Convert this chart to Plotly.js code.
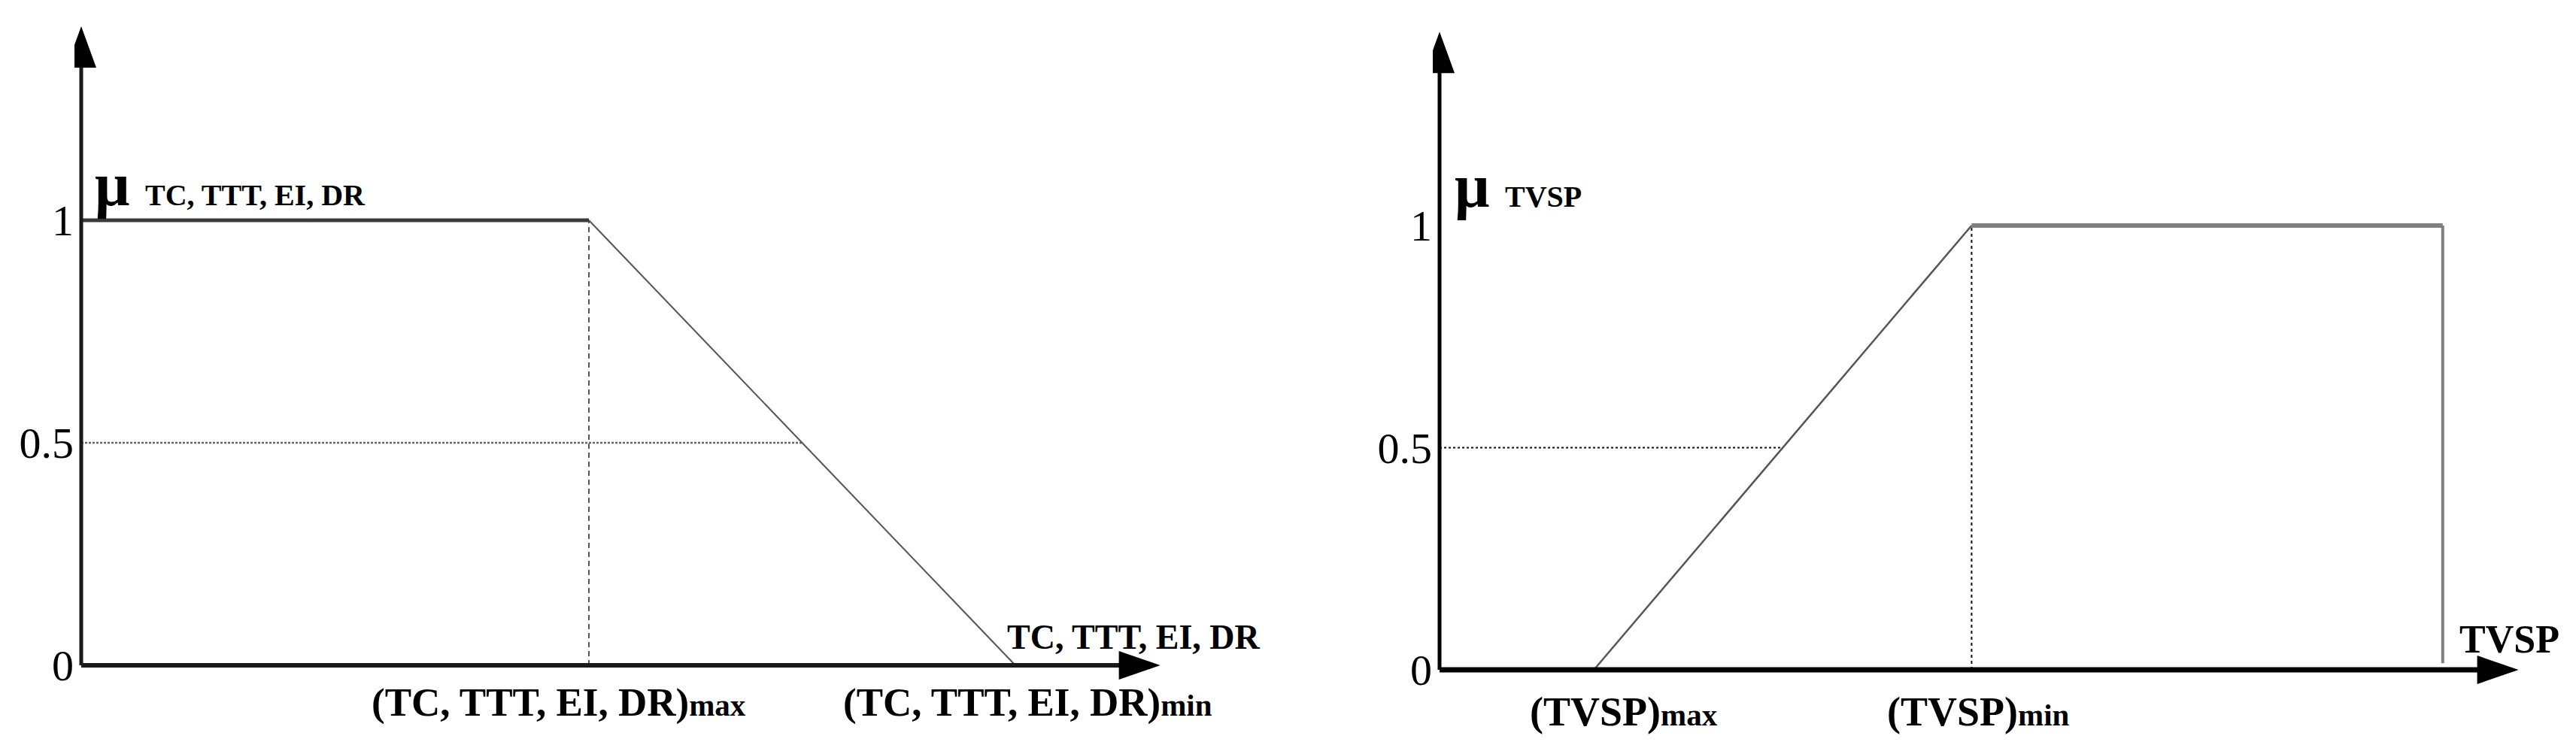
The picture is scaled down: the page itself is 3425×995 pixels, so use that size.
<!DOCTYPE html>
<html>
<head>
<meta charset="utf-8">
<script src="https://cdn.plot.ly/plotly-3.0.1.min.js"></script>
<style>
  html, body { margin: 0; padding: 0; background: #fff; }
  #chart { width: 3425px; height: 995px; }
</style>
</head>
<body>
<div id="chart"></div>
<script>
// --- Data ---
// left panel: decreasing membership for TC, TTT, EI, DR
const leftMuX = [0, 3.75, 6.9];
const leftMuY = [1, 1, 0];
const leftHalfX = 5.33;

// right panel: increasing membership for TVSP
const rightMuX = [1.14, 3.93, 7.41, 7.41];
const rightMuY = [0, 1, 1, 0.015];
const rightHalfX = 2.52;

const yTickVals = [0, 0.5, 1];
const yTickText = ["0", "0.5", "1"];

const muNames = ["TC, TTT, EI, DR", "TVSP"];
const axisNames = ["TC, TTT, EI, DR", "TVSP"];
const boundNames = ["(TC, TTT, EI, DR)", "(TVSP)"];

// arrow tips of the drawn axes (data units)
const axisTipX = 7.97;
const axisTipY = 1.436;

// --- Geometry ---
const W = 3425, H = 995;
const pxPerX = 180;
const xRange = [-0.05, 8.05];
const yRange = [-0.05, 1.45];
const panels = [
  { ox: 108, oy: 885, pxPerY: 592 },
  { ox: 1914, oy: 891, pxPerY: 591 },
];

function xDomain(p) {
  return [(p.ox + xRange[0] * pxPerX) / W, (p.ox + xRange[1] * pxPerX) / W];
}
function yDomain(p) {
  const bottom = p.oy - yRange[0] * p.pxPerY;
  const top = p.oy - yRange[1] * p.pxPerY;
  return [(H - bottom) / H, (H - top) / H];
}

const SERIF = "Liberation Serif";

function seg(xs, ys, ax, color, width, dash) {
  return {
    x: xs, y: ys, xaxis: ax[0], yaxis: ax[1],
    type: "scatter", mode: "lines", hoverinfo: "skip",
    line: { color: color, width: width, dash: dash || "solid" },
  };
}

const L = ["x", "y"], R = ["x2", "y2"];

const traces = [
  // left panel
  seg([leftMuX[1], leftMuX[1]], [0, leftMuY[1]], L, "#222", 1.5, "7px,5px"),
  seg([0, leftHalfX], [0.5, 0.5], L, "#666", 2.5, "3px,2px"),
  seg(leftMuX.slice(0, 2), leftMuY.slice(0, 2), L, "#3a3a3a", 5),
  seg(leftMuX.slice(1), leftMuY.slice(1), L, "#555", 2),
  seg([0, axisTipX - 0.1], [0, 0], L, "#1a1a1a", 6),
  seg([0, 0], [0, axisTipY - 0.05], L, "#1a1a1a", 5),
  // right panel
  seg([rightMuX[1], rightMuX[1]], [0, rightMuY[1]], R, "#111", 2, "4px,4px"),
  seg([0, rightHalfX], [0.5, 0.5], R, "#111", 2, "3px,3px"),
  seg(rightMuX.slice(0, 2), rightMuY.slice(0, 2), R, "#555", 2.5),
  seg(rightMuX.slice(1, 3), rightMuY.slice(1, 3), R, "#808080", 6),
  seg(rightMuX.slice(2), rightMuY.slice(2), R, "#808080", 4),
  seg([0, axisTipX - 0.1], [0, 0], R, "#000", 7),
  seg([0, 0], [0, axisTipY - 0.05], R, "#000", 5),
];

function arrowHeads(xref, yref) {
  const base = {
    type: "path", xref: xref, yref: yref,
    xsizemode: "pixel", ysizemode: "pixel",
    fillcolor: "#000", line: { width: 0 },
  };
  return [
    Object.assign({}, base, { xanchor: 0, yanchor: axisTipY, path: "M-20,-55 L20,-55 L0,0 Z" }),
    Object.assign({}, base, { xanchor: axisTipX, yanchor: 0, path: "M-55,-19 L-55,19 L0,0 Z" }),
  ];
}

function ann(xref, yref, x, y, text, opts) {
  return Object.assign({
    xref: xref, yref: yref, x: x, y: y, text: text, showarrow: false,
    font: { family: SERIF, size: 46, color: "#000" },
  }, opts);
}

const sub = (t) => `<span style="font-size:41px">${t}</span>`;

const annotations = [
  // mu labels
  ann("x", "y", 0.09, 1, `<b>μ <span style="font-size:40px">${muNames[0]}</span></b>`,
    { xanchor: "left", yanchor: "bottom", font: { family: SERIF, size: 82, color: "#000" } }),
  ann("x2", "y2", 0.1, 1, `<b>μ <span style="font-size:40px">${muNames[1]}</span></b>`,
    { xanchor: "left", yanchor: "bottom", yshift: 5, font: { family: SERIF, size: 82, color: "#000" } }),
  // axis names
  ann("x", "y", 6.83, 0, `<b>${axisNames[0]}</b>`, { xanchor: "left", yanchor: "bottom", yshift: 10 }),
  ann("x2", "y2", 7.52, 0, `<b>${axisNames[1]}</b>`,
    { xanchor: "left", yanchor: "bottom", yshift: 10, font: { family: SERIF, size: 52, color: "#000" } }),
  // bound labels
  ann("x", "y", leftMuX[1], 0, `<b>${boundNames[0]}${sub("max")}</b>`,
    { xanchor: "center", yanchor: "top", xshift: -40, yshift: -18, font: { family: SERIF, size: 53, color: "#000" } }),
  ann("x", "y", leftMuX[2], 0, `<b>${boundNames[0]}${sub("min")}</b>`,
    { xanchor: "center", yanchor: "top", xshift: 16, yshift: -18, font: { family: SERIF, size: 53, color: "#000" } }),
  ann("x2", "y2", rightMuX[0], 0, `<b>${boundNames[1]}${sub("max")}</b>`,
    { xanchor: "center", yanchor: "top", xshift: 40, yshift: -24, font: { family: SERIF, size: 54, color: "#000" } }),
  ann("x2", "y2", rightMuX[1], 0, `<b>${boundNames[1]}${sub("min")}</b>`,
    { xanchor: "center", yanchor: "top", xshift: 9, yshift: -24, font: { family: SERIF, size: 54, color: "#000" } }),
];

function xAxis(p) {
  return {
    domain: xDomain(p), range: xRange, fixedrange: true,
    showgrid: false, zeroline: false, showline: false,
    showticklabels: false, ticks: "",
  };
}
function yAxis(p, anchor) {
  return {
    domain: yDomain(p), range: yRange, anchor: anchor, fixedrange: true,
    showgrid: false, zeroline: false, showline: false, ticks: "",
    tickmode: "array", tickvals: yTickVals, ticktext: yTickText,
    tickfont: { family: SERIF, size: 58, color: "#000" },
  };
}

const layout = {
  width: W, height: H,
  margin: { l: 0, r: 0, t: 0, b: 0 },
  paper_bgcolor: "#fff", plot_bgcolor: "#fff",
  showlegend: false,
  xaxis: Object.assign(xAxis(panels[0]), { anchor: "y" }),
  yaxis: yAxis(panels[0], "x"),
  xaxis2: Object.assign(xAxis(panels[1]), { anchor: "y2" }),
  yaxis2: yAxis(panels[1], "x2"),
  shapes: arrowHeads("x", "y").concat(arrowHeads("x2", "y2")),
  annotations: annotations,
};

Plotly.newPlot("chart", traces, layout, { displayModeBar: false, staticPlot: true });
</script>
</body>
</html>
